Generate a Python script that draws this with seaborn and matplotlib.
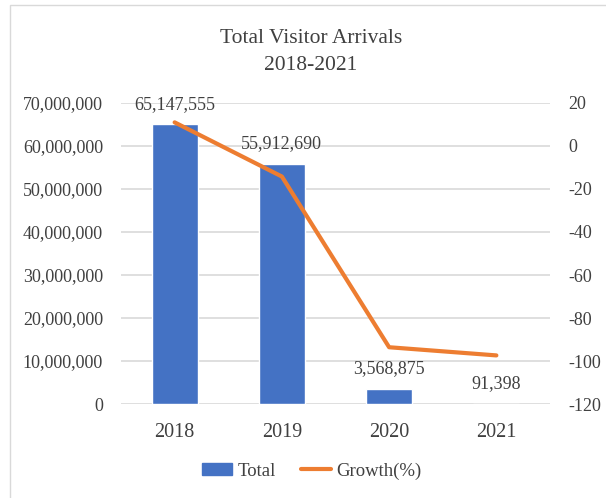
import matplotlib
matplotlib.use("Agg")
import matplotlib.pyplot as plt
import seaborn as sns
import pandas as pd
from matplotlib.patches import Patch
from matplotlib.lines import Line2D
from matplotlib.ticker import FuncFormatter

years = ["2018", "2019", "2020", "2021"]
totals = [65147555, 55912690, 3568875, 91398]
growth = [11.0, -14.2, -93.6, -97.4]

sns.set_theme(style="white")
plt.rcParams['font.family'] = ['Liberation Serif', 'DejaVu Serif']
plt.rcParams['axes.unicode_minus'] = False

txt = "#404040"
bar_c = "#4472C4"
line_c = "#ED7D31"
grid_c = "#D9D9D9"

df = pd.DataFrame({"Year": years, "Total": totals, "Growth": growth})

W, H = 606, 498
fig = plt.figure(figsize=(W/100, H/100), dpi=100)
left, right, top, bottom = 121, 550, 103, 404
ax = fig.add_axes([left/W, 1 - bottom/H, (right-left)/W, (bottom-top)/H])

sns.barplot(data=df, x="Year", y="Total", color=bar_c, width=0.43, ax=ax, zorder=2, saturation=1)
ax.set_ylim(0, 70000000)
ax.set_yticks(range(0, 70000001, 10000000))
ax.yaxis.set_major_formatter(FuncFormatter(lambda v, p: f"{int(v):,}"))
ax.grid(axis="y", color=grid_c, linewidth=1.2, zorder=0)
ax.set_axisbelow(True)
for s in ax.spines.values():
    s.set_visible(False)
ax.set_xlabel("")
ax.set_ylabel("")
ax.tick_params(axis="y", length=0, labelsize=13, colors=txt, pad=13)
ax.tick_params(axis="x", length=0, labelsize=14.5, colors=txt, pad=14)
ax.set_xlim(-0.5, 3.5)

for i, v in enumerate(totals):
    ax.annotate(f"{v:,}", (i, v), xytext=(0, 8), textcoords="offset points",
                ha="center", va="bottom", fontsize=13, color=txt, zorder=5)

ax2 = ax.twinx()
sns.lineplot(x=list(range(len(years))), y=growth, ax=ax2, color=line_c, linewidth=3, zorder=3)
ax2.set_ylim(-120, 20)
ax2.set_yticks(range(-120, 21, 20))
for s in ax2.spines.values():
    s.set_visible(False)
ax2.tick_params(axis="y", length=0, labelsize=13, colors=txt, pad=13)
ax2.set_xlim(-0.5, 3.5)

fig.text(311/W, 1 - 52/H, "Total Visitor Arrivals\n2018-2021", ha="center", va="center",
         fontsize=15.5, color=txt, linespacing=1.55)

handles = [Patch(facecolor=bar_c, edgecolor=bar_c), Line2D([0], [0], color=line_c, linewidth=3)]
fig.legend(handles, ["Total", "Growth(%)"], loc="center", bbox_to_anchor=(312/W, 1 - 471/H),
           ncol=2, frameon=False, fontsize=13.5, labelcolor=txt, handlelength=1.6,
           handleheight=0.55, handletextpad=0.3, columnspacing=1.3)

border = plt.Rectangle((10/W, -0.01), 1.2, 1 - 5/H + 0.01, transform=fig.transFigure,
                       fill=False, edgecolor="#D9D9D9", linewidth=1)
fig.patches.append(border)

fig.savefig("out.png", dpi=100)
